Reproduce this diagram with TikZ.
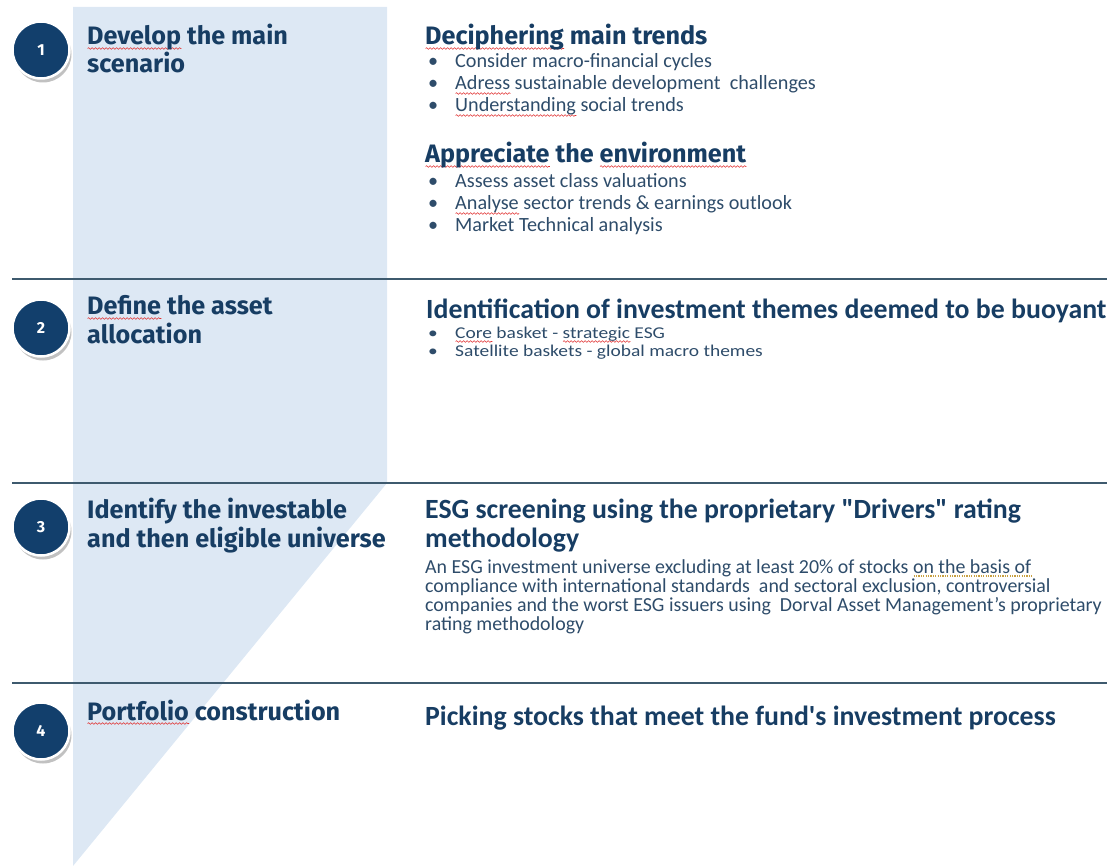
\documentclass[tikz,border=0pt]{standalone}
\usepackage{fontspec}
\newfontfamily\carl{Carlito}
\newfontfamily\carlw{Carlito}[FakeStretch=1.18]
\newfontfamily\fira{Fira Sans}
\usetikzlibrary{shadows,decorations.pathmorphing}
\definecolor{navy}{HTML}{173D63}
\definecolor{bodyc}{HTML}{2E4C6A}
\definecolor{band}{HTML}{DDE8F4}
\definecolor{rulec}{HTML}{3E5A6E}
\definecolor{circ}{HTML}{123F6C}
\definecolor{squig}{HTML}{E03030}
\definecolor{dotc}{HTML}{C8A040}
\newsavebox\sqbox
\newcommand\sq[1]{\sbox\sqbox{#1}\rlap{\tikz[baseline=0pt,x=1pt,y=1pt]\draw[squig,line width=0.6pt,decorate,decoration={snake,amplitude=0.8pt,segment length=3.5pt}] (0pt,-3.5pt) -- (\wd\sqbox,-3.5pt);}\usebox\sqbox}
\newcommand\dq[1]{\sbox\sqbox{#1}\rlap{\tikz[baseline=0pt,x=1pt,y=1pt]\draw[dotc,line width=1.2pt,dash pattern=on 1.2pt off 1.2pt] (0pt,-3pt) -- (\wd\sqbox,-3pt);}\usebox\sqbox}
\tikzset{
  lt/.style={anchor=base west, inner sep=0pt, text=navy, font=\fira\bfseries\fontsize{25.2}{28}\selectfont},
  rt/.style={anchor=base west, inner sep=0pt, text=navy, font=\carl\bfseries\fontsize{27.8}{30}\selectfont},
  bl/.style={anchor=base west, inner sep=0pt, text=bodyc, font=\carl\fontsize{20.2}{22}\selectfont},
  bs/.style={anchor=base west, inner sep=0pt, text=bodyc, font=\carlw\fontsize{16.5}{17}\selectfont},
  bp/.style={anchor=base west, inner sep=0pt, text=bodyc, font=\carl\fontsize{19.9}{20}\selectfont},
  num/.style={circle, minimum size=57pt, inner sep=0pt, fill=circ, draw=white, line width=2.5pt,
    text=white, font=\fira\bfseries\fontsize{16}{16}\selectfont,
    drop shadow={shadow xshift=2pt, shadow yshift=-4pt, opacity=0.35, fill=black!70}},
  sepline/.style={draw=rulec, line width=2pt}
}
\begin{document}
\begin{tikzpicture}[x=1pt,y=-1pt]
\useasboundingbox (0,0) rectangle (1113,866);
% light band
\fill[band] (73,7) -- (387,7) -- (387,483) -- (73,866) -- cycle;
% separators
\coordinate (s1a) at (12,279); \coordinate (s1b) at (1107,279);
\coordinate (s2a) at (12,483); \coordinate (s2b) at (1107,483);
\coordinate (s3a) at (12,683); \coordinate (s3b) at (1107,683);
\draw[sepline] (s1a) -- (s1b);
\draw[sepline] (s2a) -- (s2b);
\draw[sepline] (s3a) -- (s3b);
% circles
\node[num] (c1) at (41,50) {1};
\node[num] (c2) at (41,328) {2};
\node[num] (c3) at (41,527) {3};
\node[num] (c4) at (41,731) {4};
% left titles
\node[lt] (t1a) at (87,45) {\sq{Develop} the main};
\node[lt] (t1b) at (87,73) {scenario};
\node[lt] (t2a) at (87,315) {\sq{Define} the asset};
\node[lt] (t2b) at (87,343) {allocation};
\node[lt] (t3a) at (87,518) {Identify the investable};
\node[lt] (t3b) at (87,547) {and then eligible universe};
\node[lt] (t4a) at (87,720) {\sq{Portfolio} construction};
% row 1 right
\node[lt] (h1) at (425,45) {\sq{Deciphering} main trends};
\node[bl] (b1d) at (428,68) {•}; \node[bl] (b1) at (455,68) {Consider macro-financial cycles};
\node[bl] (b2d) at (428,90) {•}; \node[bl] (b2) at (455,90) {\sq{Adress} sustainable development\ \ challenges};
\node[bl] (b3d) at (428,112) {•}; \node[bl] (b3) at (455,112) {\sq{Understanding} social trends};
\node[lt] (h2) at (425,163) {\sq{Appreciate} the \sq{environment}};
\node[bl] (b4d) at (428,188) {•}; \node[bl] (b4) at (455,188) {Assess asset class valuations};
\node[bl] (b5d) at (428,210) {•}; \node[bl] (b5) at (455,210) {\sq{Analyse} sector trends \& earnings outlook};
\node[bl] (b6d) at (428,232) {•}; \node[bl] (b6) at (455,232) {Market Technical analysis};
% row 2 right
\node[rt] (h3) at (426,319) {Identification of investment themes deemed to be buoyant};
\node[bs] (b7d) at (428,338) {•}; \node[bs] (b7) at (455,338) {\sq{Core} basket - \sq{strategic} ESG};
\node[bs] (b8d) at (428,356) {•}; \node[bs] (b8) at (455,356) {Satellite baskets - global macro themes};
% row 3 right
\node[rt] (h4a) at (425,518) {ESG screening using the proprietary "Drivers" rating};
\node[rt] (h4b) at (425,547) {methodology};
\node[bp] (p1) at (425,573) {An ESG investment universe excluding at least 20\% of stocks \dq{on the basis of}};
\node[bp] (p2) at (425,592) {compliance with international standards\ \ and sectoral exclusion, controversial};
\node[bp] (p3) at (425,611) {companies and the worst ESG issuers using\ \ Dorval Asset Management’s proprietary};
\node[bp] (p4) at (425,630) {rating methodology};
% row 4 right
\node[rt] (h5) at (425,725) {Picking stocks that meet the fund's investment process};
\end{tikzpicture}
\end{document}
